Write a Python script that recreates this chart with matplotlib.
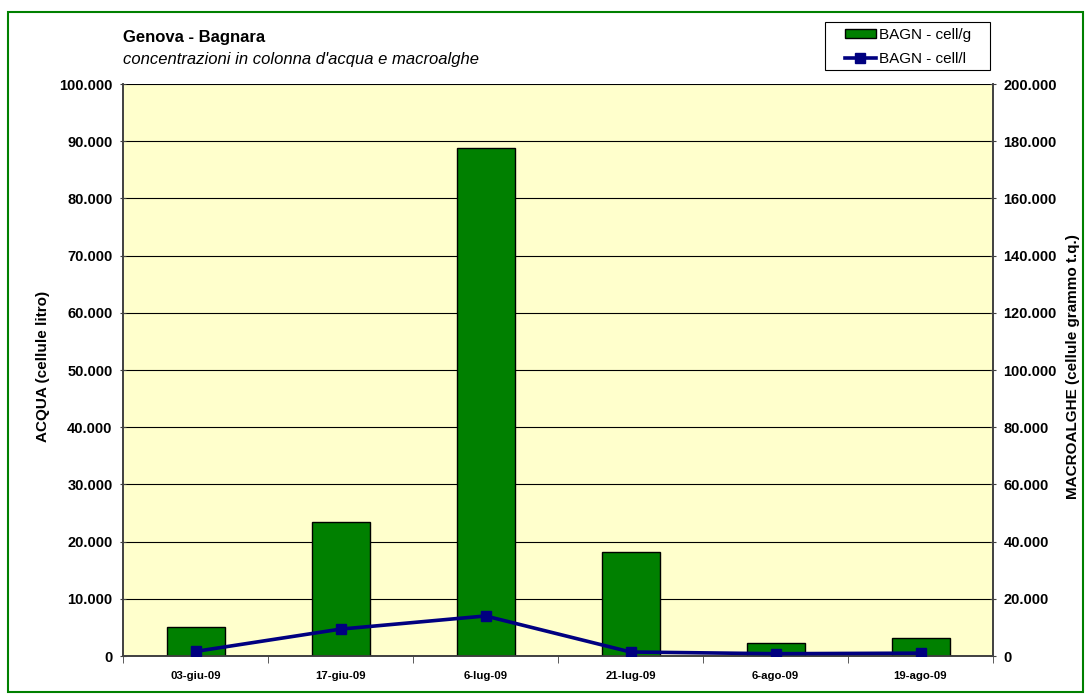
import matplotlib
matplotlib.use("Agg")
import matplotlib.pyplot as plt
from matplotlib.ticker import FuncFormatter, FixedLocator
from matplotlib.patches import Rectangle
import numpy as np

plt.rcParams['font.family'] = ['Liberation Sans', 'DejaVu Sans']

categories = ["03-giu-09", "17-giu-09", "6-lug-09", "21-lug-09", "6-ago-09", "19-ago-09"]
cell_g = [10000, 47000, 177500, 36500, 4500, 6300]   # bars, right axis
cell_l = [800, 4700, 7000, 700, 400, 500]             # line, left axis

W, H = 1089, 695
fig = plt.figure(figsize=(W / 100, H / 100), dpi=100)
fig.patches.append(Rectangle((8 / W, 1 - 692 / H), (1083 - 8) / W, (692 - 12) / H,
                             transform=fig.transFigure, fill=False,
                             edgecolor='#008000', linewidth=1.5, zorder=0))

ax = fig.add_axes([123 / W, 1 - 656 / H, (993 - 123) / W, (656 - 84) / H])
ax2 = ax.twinx()

def fmt(v, pos):
    return f"{int(round(v)):,}".replace(",", ".")

x = np.arange(len(categories))

# bars on right axis (behind)
ax2.patch.set_visible(True)
ax2.patch.set_facecolor('#FFFFCC')
ax2.bar(x, cell_g, width=0.4, color='#008000', edgecolor='black', linewidth=1.0,
        label='BAGN - cell/g', zorder=3)
ax2.set_ylim(0, 200000)
ax2.yaxis.set_major_locator(FixedLocator(np.arange(0, 200001, 20000)))
ax2.yaxis.set_major_formatter(FuncFormatter(fmt))
ax2.grid(axis='y', color='black', linewidth=0.8, zorder=0)
ax2.set_axisbelow(True)

# line on left axis (front)
ax.set_zorder(ax2.get_zorder() + 1)
ax.patch.set_visible(False)
ax.plot(x, cell_l, color='#000080', linewidth=2.6, marker='s', markersize=6.5,
        label='BAGN - cell/l', zorder=5)
ax.set_ylim(0, 100000)
ax.yaxis.set_major_locator(FixedLocator(np.arange(0, 100001, 10000)))
ax.yaxis.set_major_formatter(FuncFormatter(fmt))

ax.set_xlim(-0.5, len(categories) - 0.5)
ax.set_xticks(x)
ax.set_xticklabels(categories, fontsize=8.2, fontweight='bold')
ax.set_xticks(np.arange(-0.5, len(categories) + 0.5, 1.0), minor=True)
ax.tick_params(axis='x', which='major', length=0, pad=11)
ax.tick_params(axis='x', which='minor', length=5, direction='out', color='#404040')

for a in (ax, ax2):
    a.tick_params(axis='y', labelsize=10.5, length=5, direction='inout', color='#404040', pad=5)
    for t in a.get_yticklabels():
        t.set_fontweight('bold')
    for s in a.spines.values():
        s.set_color('#404040')
        s.set_linewidth(1.2)
ax.spines['top'].set_visible(False)
ax2.spines['top'].set_visible(False)

fig.text(43 / W, 1 - 366 / H, "ACQUA (cellule litro)", rotation=90, fontsize=11,
         fontweight='bold', ha='center', va='center')
fig.text(1073 / W, 1 - 367 / H, "MACROALGHE (cellule grammo t.q.)", rotation=90, fontsize=11,
         fontweight='bold', ha='center', va='center')

fig.text(123 / W, 1 - 42 / H, "Genova - Bagnara", fontsize=12, fontweight='bold',
         va='baseline', ha='left')
fig.text(123 / W, 1 - 64 / H, "concentrazioni in colonna d'acqua e macroalghe", fontsize=12,
         style='italic', va='baseline', ha='left')

# legend (frame drawn separately)
fig.patches.append(Rectangle((825 / W, 1 - 70 / H), (990 - 825) / W, (70 - 22) / H,
                             transform=fig.transFigure, fill=True, facecolor='white',
                             edgecolor='black', linewidth=0.8, zorder=1))
h1, l1 = ax2.get_legend_handles_labels()
h2, l2 = ax.get_legend_handles_labels()
leg = fig.legend(h1 + h2, l1 + l2, loc='center left', bbox_to_anchor=(845 / W, 1 - 47 / H),
                 fontsize=11, frameon=False, handlelength=2.0, handleheight=0.5,
                 handletextpad=0.2, borderpad=0.0, labelspacing=0.7, borderaxespad=0)
leg.set_zorder(2)

fig.savefig("out.png", dpi=100)
